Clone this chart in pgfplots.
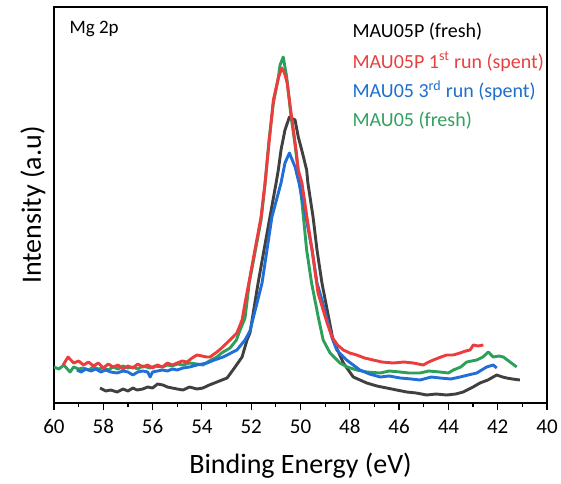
\documentclass[border=0pt]{standalone}
\usepackage{fontspec}
\setmainfont{Carlito}
\usepackage{pgfplots}
\pgfplotsset{compat=1.18}
\definecolor{cblack}{RGB}{64,64,64}
\definecolor{cred}{RGB}{236,60,60}
\definecolor{cblue}{RGB}{32,110,215}
\definecolor{cgreen}{RGB}{44,160,90}
\definecolor{tred}{RGB}{232,64,64}
\definecolor{tblue}{RGB}{30,110,205}
\definecolor{tgreen}{RGB}{50,160,95}
\begin{document}
\begin{tikzpicture}
\begin{axis}[
  name=ax,
  scale only axis,
  width=493pt, height=396pt,
  xmin=40, xmax=60, ymin=0, ymax=396,
  x dir=reverse,
  xtick={40,42,...,60},
  minor x tick num=1,
  ytick=\empty,
  xtick pos=bottom,
  tick align=outside,
  major tick length=7pt,
  minor tick length=4pt,
  axis line style={line width=1.2pt},
  every tick/.style={line width=1.2pt, black},
  /pgf/number format/assume math mode=true,
  ticklabel style={font=\fontsize{21}{25}\selectfont},
  xticklabel style={yshift=-6pt},
  xlabel={Binding Energy (eV)},
  ylabel={Intensity (a.u)},
  label style={font=\fontsize{28}{34}\selectfont},
  xlabel style={yshift=-12pt},
  ylabel style={yshift=-2pt},
  every axis plot/.append style={line width=2.9pt, line join=round},
]
% MAU05P (fresh)
\addplot[cblack] coordinates {
(58.13,15) (57.9,12) (57.7,13) (57.44,11) (57.2,14) (57.0,12) (56.8,15) (56.63,13)
(56.4,14) (56.2,16) (56.0,15) (55.8,19) (55.58,18) (55.4,16) (55.2,15) (55.0,14)
(54.77,13) (54.5,16) (54.2,14) (53.96,15) (53.7,18) (53.39,21) (52.98,25) (52.74,33)
(52.37,46) (52.17,63) (52.05,70) (51.72,120) (51.24,186) (50.99,220) (50.90,233)
(50.79,253) (50.63,273) (50.45,286) (50.22,283) (50.09,266) (49.95,253) (49.75,233)
(49.70,220) (49.49,186) (49.33,153) (49.13,120) (48.68,63) (48.26,40) (47.86,26)
(47.31,20) (46.9,17) (46.50,15) (46.1,13) (45.69,11) (45.3,10) (44.88,8) (44.5,9)
(44.07,8) (43.7,9) (43.40,11) (43.0,16) (42.72,20) (42.4,23) (42.04,28) (41.8,26)
(41.64,25) (41.4,24) (41.10,23)
};
% MAU05 (fresh)
\addplot[cgreen] coordinates {
(60.00,36) (59.8,34) (59.6,38) (59.35,31) (59.2,36) (59.0,34) (58.82,35) (58.6,33)
(58.4,36) (58.2,34) (58.0,35) (57.8,33) (57.6,36) (57.4,34) (57.2,37) (57.0,35)
(56.8,36) (56.6,34) (56.4,37) (56.11,35) (55.9,37) (55.6,36) (55.4,38) (55.2,37)
(55.0,39) (54.77,38) (54.5,40) (54.2,39) (53.96,38) (53.7,42) (53.39,46) (53.2,50)
(52.86,55) (52.6,63) (52.45,73) (52.25,85) (52.08,120) (51.85,150) (51.60,183)
(51.44,218) (51.28,262) (51.10,300) (50.90,325) (50.83,338) (50.70,346) (50.56,326)
(50.40,290) (50.22,258) (49.95,203) (49.75,153) (49.55,120) (49.28,86) (49.08,63)
(48.80,50) (48.40,40) (48.1,36) (47.72,33) (47.3,31) (46.77,30) (46.4,32) (45.96,31)
(45.6,30) (45.15,30) (44.8,32) (44.34,31) (44.0,30) (43.80,33) (43.5,36) (43.26,41)
(42.85,43) (42.6,46) (42.38,51) (42.18,46) (41.95,47) (41.77,46) (41.50,41) (41.23,36)
};
% MAU05 3rd run (spent)
\addplot[cblue] coordinates {
(59.07,33) (58.9,31) (58.7,34) (58.5,32) (58.3,34) (58.1,31) (57.9,33) (57.7,31)
(57.44,30) (57.2,32) (57.0,31) (56.8,28) (56.6,31) (56.4,32) (56.2,31) (56.1,26)
(56.0,31) (55.8,32) (55.6,33) (55.4,32) (55.2,34) (55.0,33) (54.77,35) (54.5,36)
(54.2,38) (53.79,40) (53.5,43) (53.14,46) (52.9,49) (52.58,53) (52.25,63) (52.05,72)
(51.56,120) (51.16,186) (50.79,220) (50.63,240) (50.45,250) (50.22,236) (50.06,220)
(49.78,186) (49.53,153) (49.33,120) (49.13,103) (48.73,66) (48.53,53) (48.13,43)
(47.59,33) (47.2,29) (46.77,26) (46.4,27) (45.96,25) (45.5,24) (45.15,23) (44.7,26)
(44.34,25) (43.9,24) (43.53,26) (43.2,28) (42.85,30) (42.45,36) (42.18,38) (42.04,35)
};
% MAU05P 1st run (spent)
\addplot[cred] coordinates {
(59.63,38) (59.43,46) (59.2,40) (59.0,42) (58.8,38) (58.6,41) (58.4,37) (58.2,40)
(58.0,35) (57.8,39) (57.6,36) (57.4,38) (57.2,34) (57.0,37) (56.8,35) (56.6,39)
(56.4,36) (56.2,38) (56.0,35) (55.8,38) (55.6,36) (55.4,40) (55.2,38) (55.0,40)
(54.8,42) (54.6,41) (54.4,45) (54.20,48) (54.0,47) (53.8,46) (53.67,46) (53.39,51)
(53.2,55) (52.86,63) (52.58,70) (52.37,83) (52.25,100) (52.05,126) (51.85,153)
(51.60,186) (51.44,220) (51.27,262) (51.10,303) (50.90,325) (50.76,335) (50.65,330)
(50.54,320) (50.36,286) (50.18,253) (50.09,233) (49.94,220) (49.74,186) (49.53,153)
(49.29,110) (48.92,80) (48.72,66) (48.5,58) (48.26,53) (48.0,50) (47.72,48) (47.4,45)
(47.05,43) (46.7,41) (46.24,40) (45.8,41) (45.42,40) (45.02,38) (44.8,41) (44.61,43)
(44.3,46) (44.07,48) (43.8,48) (43.53,50) (43.3,52) (43.12,53) (42.99,58) (42.8,57)
(42.58,58)
};
\node[anchor=base west, font=\fontsize{19}{23}\selectfont] at (axis cs:59.51,370) {Mg 2p};
\node[anchor=base west, font=\fontsize{20}{24}\selectfont, text=black] at (axis cs:48.03,365.3) {MAU05P (fresh)};
\node[anchor=base west, font=\fontsize{20}{24}\selectfont, text=tred] at (axis cs:48.03,334.7) {MAU05P 1\textsuperscript{st} run (spent)};
\node[anchor=base west, font=\fontsize{20}{24}\selectfont, text=tblue] at (axis cs:48.03,305.3) {MAU05 3\textsuperscript{rd} run (spent)};
\node[anchor=base west, font=\fontsize{20}{24}\selectfont, text=tgreen] at (axis cs:48.03,276.3) {MAU05 (fresh)};
\end{axis}
\pgfresetboundingbox
\path ([xshift=-54pt,yshift=-80pt]ax.south west) rectangle ([xshift=14pt,yshift=7pt]ax.north east);
\end{tikzpicture}
\end{document}
